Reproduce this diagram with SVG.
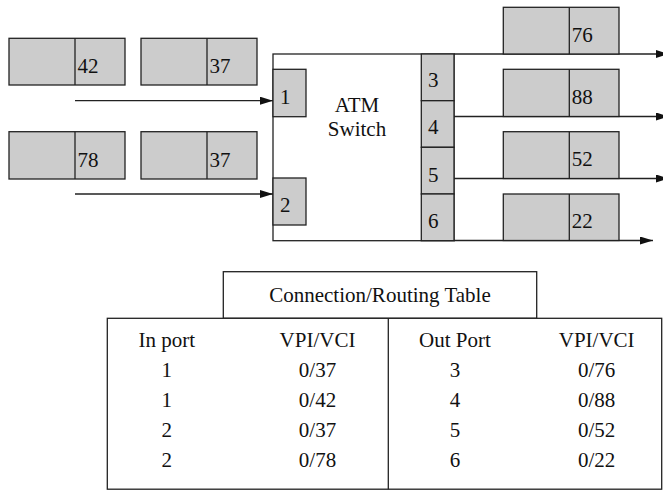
<svg xmlns="http://www.w3.org/2000/svg" width="663" height="490" viewBox="0 0 663 490" font-family="'Liberation Serif', 'Times New Roman', Times, serif" font-size="21">
<style>
.cell{fill:#cccccc;stroke:#222;stroke-width:1.3}
.box{fill:#fff;stroke:#222;stroke-width:1.3}
.ln{fill:none;stroke:#222;stroke-width:1.3}
.arr{fill:none;stroke:#222;stroke-width:1.3;marker-end:url(#ah)}
text{font-family:'Liberation Serif', 'Times New Roman', Times, serif;font-size:21px;fill:#111}
.c{text-anchor:middle}
</style>
<defs>
<marker id="ah" markerUnits="userSpaceOnUse" markerWidth="14" markerHeight="9" refX="13" refY="4" orient="auto">
<path d="M0,0 L13,4 L0,8 z" fill="#111"/>
</marker>
</defs>
<rect width="663" height="490" fill="#fff"/>

<g id="switch">
<rect class="box" x="273" y="54" width="181" height="186.7"/>
<text class="c" x="357" y="111.5">ATM</text>
<text class="c" x="357" y="136">Switch</text>
</g>
<g id="port1"><rect class="cell" x="273" y="69.3" width="33" height="47.4"/><text x="280" y="104">1</text></g>
<g id="port2"><rect class="cell" x="273" y="178" width="33" height="47"/><text x="280" y="211.5">2</text></g>
<g id="port3"><rect class="cell" x="421.3" y="54" width="32.7" height="46.7"/><text x="428" y="87.3">3</text></g>
<g id="port4"><rect class="cell" x="421.3" y="100.7" width="32.7" height="46.6"/><text x="428" y="134">4</text></g>
<g id="port5"><rect class="cell" x="421.3" y="147.3" width="32.7" height="46.7"/><text x="428" y="181.5">5</text></g>
<g id="port6"><rect class="cell" x="421.3" y="194" width="32.7" height="46.7"/><text x="428" y="228.3">6</text></g>

<g id="connectors">
<line class="arr" x1="75" y1="100.7" x2="273" y2="100.7"/>
<line class="arr" x1="75" y1="194" x2="273" y2="194"/>
<line class="arr" x1="454" y1="54" x2="669" y2="54"/>
<line class="arr" x1="454" y1="116.5" x2="669" y2="116.5"/>
<line class="arr" x1="454" y1="178.5" x2="669" y2="178.5"/>
<line class="arr" x1="454" y1="240.5" x2="653" y2="240.5"/>
</g>

<g id="in-cell-42"><rect class="cell" x="9" y="38.3" width="116" height="46.7"/><line class="ln" x1="75" y1="38.3" x2="75" y2="85"/><text x="77.5" y="73.3">42</text></g>
<g id="in-cell-37a"><rect class="cell" x="141" y="38.3" width="116" height="46.7"/><line class="ln" x1="207" y1="38.3" x2="207" y2="85"/><text x="209.5" y="73.3">37</text></g>
<g id="in-cell-78"><rect class="cell" x="9" y="131.7" width="116" height="47.3"/><line class="ln" x1="75" y1="131.7" x2="75" y2="179"/><text x="77.5" y="166.7">78</text></g>
<g id="in-cell-37b"><rect class="cell" x="141" y="131.7" width="116" height="47.3"/><line class="ln" x1="207" y1="131.7" x2="207" y2="179"/><text x="209.5" y="166.7">37</text></g>

<g id="out-cell-76"><rect class="cell" x="503.3" y="7.3" width="115.7" height="46.7"/><line class="ln" x1="569.3" y1="7.3" x2="569.3" y2="54"/><text x="571.8" y="41.7">76</text></g>
<g id="out-cell-88"><rect class="cell" x="503.3" y="69.3" width="115.7" height="47.2"/><line class="ln" x1="569.3" y1="69.3" x2="569.3" y2="116.5"/><text x="571.8" y="104">88</text></g>
<g id="out-cell-52"><rect class="cell" x="503.3" y="131.7" width="115.7" height="46.8"/><line class="ln" x1="569.3" y1="131.7" x2="569.3" y2="178.5"/><text x="571.8" y="165.7">52</text></g>
<g id="out-cell-22"><rect class="cell" x="503.3" y="194" width="115.7" height="46.5"/><line class="ln" x1="569.3" y1="194" x2="569.3" y2="240.5"/><text x="571.8" y="227.7">22</text></g>

<g id="table">
<rect class="box" x="223.3" y="271.7" width="313.4" height="46.6"/>
<text class="c" x="380" y="302">Connection/Routing Table</text>
<rect class="box" x="107.3" y="318.3" width="554.4" height="170.9"/>
<line class="ln" x1="388.3" y1="318.3" x2="388.3" y2="489.2"/>
<text class="c" x="166.7" y="347">In port</text>
<text class="c" x="166.7" y="377">1</text>
<text class="c" x="166.7" y="407">1</text>
<text class="c" x="166.7" y="437">2</text>
<text class="c" x="166.7" y="467">2</text>
<text class="c" x="317.5" y="347">VPI/VCI</text>
<text class="c" x="317.5" y="377">0/37</text>
<text class="c" x="317.5" y="407">0/42</text>
<text class="c" x="317.5" y="437">0/37</text>
<text class="c" x="317.5" y="467">0/78</text>
<text class="c" x="455" y="347">Out Port</text>
<text class="c" x="455" y="377">3</text>
<text class="c" x="455" y="407">4</text>
<text class="c" x="455" y="437">5</text>
<text class="c" x="455" y="467">6</text>
<text class="c" x="596.7" y="347">VPI/VCI</text>
<text class="c" x="596.7" y="377">0/76</text>
<text class="c" x="596.7" y="407">0/88</text>
<text class="c" x="596.7" y="437">0/52</text>
<text class="c" x="596.7" y="467">0/22</text>
</g>
</svg>
